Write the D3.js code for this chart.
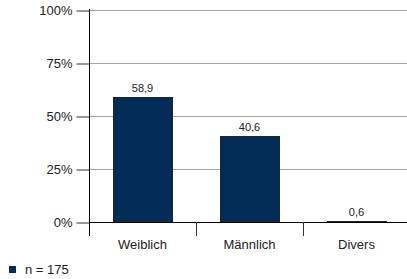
<!DOCTYPE html>
<html>
<head>
<meta charset="utf-8">
<script src="https://cdn.jsdelivr.net/npm/d3@7"></script>
<style>
  body { margin: 0; background: #fff; }
  svg { display: block; font-family: "Liberation Sans", Arial, sans-serif; }
</style>
</head>
<body>
<script>
const categories = ["Weiblich", "Männlich", "Divers"];
const values = [58.9, 40.6, 0.6];
const yTicks = [0, 25, 50, 75, 100];
const legendLabel = "n = 175";

const w = 407, h = 279;
const plotLeft = 89, plotRight = 410, plotTop = 10, plotBottom = 222;

const svg = d3.select("body").append("svg")
  .attr("width", w).attr("height", h);

const x = d3.scaleBand().domain(categories).range([plotLeft, plotRight]).padding(0);
const y = d3.scaleLinear().domain([0, 100]).range([plotBottom, plotTop]);

// gridlines
svg.append("g").selectAll("line")
  .data(yTicks.filter(d => d > 0))
  .enter().append("line")
  .attr("x1", plotLeft).attr("x2", w)
  .attr("y1", d => Math.round(y(d)) + 0.5)
  .attr("y2", d => Math.round(y(d)) + 0.5)
  .attr("stroke", "#a6a6a6");

// bars
const bw = x.bandwidth() * 0.55;
svg.append("g").selectAll("rect")
  .data(values)
  .enter().append("rect")
  .attr("x", (d, i) => Math.round(x(categories[i]) + (x.bandwidth() - bw) / 2) + 0.5)
  .attr("y", d => Math.round(y(d)) + 0.5)
  .attr("width", Math.round(bw))
  .attr("height", d => Math.max(0, Math.round(plotBottom - y(d))))
  .attr("fill", "#022b55")
  .attr("stroke", "#222");

// value labels
svg.append("g").selectAll("text")
  .data(values)
  .enter().append("text")
  .attr("x", (d, i) => x(categories[i]) + x.bandwidth() / 2)
  .attr("y", d => y(d) - 5)
  .attr("text-anchor", "middle")
  .attr("font-size", "11px")
  .attr("fill", "#222")
  .text(d => d.toFixed(1).replace(".", ","));

// y axis
const yAxis = svg.append("g")
  .attr("transform", "translate(" + (plotLeft + 0.5) + ",0.5)")
  .call(d3.axisLeft(y).tickValues(yTicks).tickSize(13).tickSizeOuter(0)
    .tickFormat(d => d + "%"));
yAxis.select(".domain").remove();
yAxis.selectAll(".tick line").attr("stroke", "#333");
yAxis.selectAll(".tick text").attr("font-size", "13px").attr("fill", "#222")
  .attr("font-family", "Liberation Sans, Arial, sans-serif").attr("dx", "-1");

svg.append("line")
  .attr("x1", plotLeft + 0.5).attr("x2", plotLeft + 0.5)
  .attr("y1", plotTop - 1).attr("y2", plotBottom + 14)
  .attr("stroke", "#000");

// x axis
svg.append("line")
  .attr("x1", plotLeft).attr("x2", w)
  .attr("y1", plotBottom + 0.5).attr("y2", plotBottom + 0.5)
  .attr("stroke", "#000");

svg.append("g").selectAll("line")
  .data(categories.slice(1))
  .enter().append("line")
  .attr("x1", d => Math.round(x(d)) + 0.5).attr("x2", d => Math.round(x(d)) + 0.5)
  .attr("y1", plotBottom).attr("y2", plotBottom + 14)
  .attr("stroke", "#333");

svg.append("g").selectAll("text")
  .data(categories)
  .enter().append("text")
  .attr("x", d => x(d) + x.bandwidth() / 2)
  .attr("y", plotBottom + 27)
  .attr("text-anchor", "middle")
  .attr("font-size", "13px")
  .attr("fill", "#222")
  .text(d => d);

// legend
const legend = svg.append("g").attr("transform", "translate(9,266)");
legend.append("rect")
  .attr("width", 7).attr("height", 7)
  .attr("fill", "#022b55");
legend.append("text")
  .attr("x", 16).attr("y", 8)
  .attr("font-size", "13px")
  .attr("fill", "#222")
  .text(legendLabel);
</script>
</body>
</html>
